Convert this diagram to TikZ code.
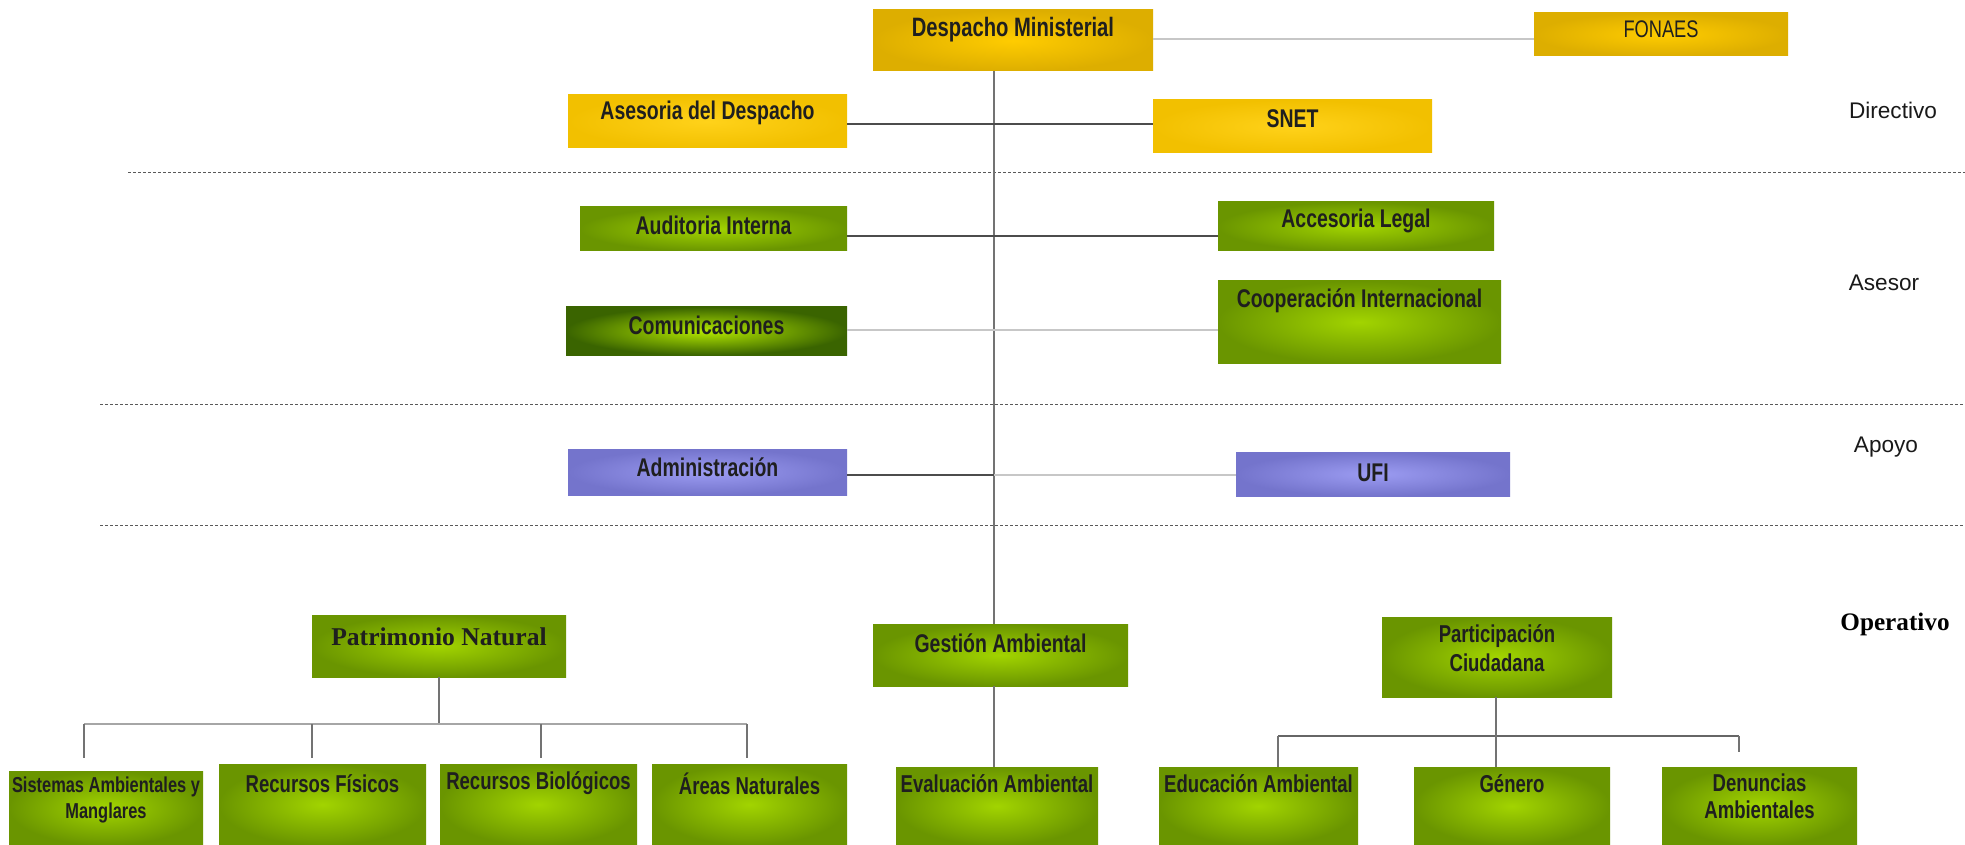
\documentclass[tikz,border=0pt]{standalone}
\usepackage{fontspec}
\setmainfont{Liberation Sans}
\newfontfamily\narrowfont[FakeStretch=0.76]{Liberation Sans}
\newfontfamily\serfont{Liberation Serif}
\usetikzlibrary{fit,calc}
\definecolor{yedge}{HTML}{DDAE00}
\definecolor{ycen}{HTML}{FFCC00}
\definecolor{yedgeb}{HTML}{F2C000}
\definecolor{ycenb}{HTML}{FFD21A}
\definecolor{gedge}{HTML}{6A9500}
\definecolor{gcen}{HTML}{A2D400}
\definecolor{dgedge}{HTML}{3A6400}
\definecolor{dgcen}{HTML}{B4E800}
\definecolor{pedge}{HTML}{7474CC}
\definecolor{pcen}{HTML}{9C9CF2}
\begin{document}
\begin{tikzpicture}[x=0.5pt,y=-0.5pt,
  boxbase/.style={rectangle,draw=none,inner sep=0pt},
  ybox/.style={boxbase,inner color=ycen,outer color=yedge},
  ybbox/.style={boxbase,inner color=ycenb,outer color=yedgeb},
  gbox/.style={boxbase,inner color=gcen,outer color=gedge},
  dgbox/.style={boxbase,inner color=dgcen,outer color=dgedge},
  pbox/.style={boxbase,inner color=pcen,outer color=pedge},
  lbl/.style={font=\narrowfont\bfseries\fontsize{12.8}{14.5}\selectfont,text=black!88,align=center,inner sep=0pt},
  lblsm/.style={font=\narrowfont\bfseries\fontsize{12.2}{13.5}\selectfont,text=black!88,align=center,inner sep=0pt},
  side/.style={font=\fontsize{11.3}{13}\selectfont,text=black!90,inner sep=0pt},
  darkline/.style={draw=black!70,line width=1pt},
  midline/.style={draw=black!55,line width=0.8pt},
  lightline/.style={draw=black!22,line width=1pt},
  sep/.style={draw=black!65,line width=0.5pt,dash pattern=on 1.5pt off 1pt}
]
\useasboundingbox (0,0) rectangle (1965,845);
\fill[white] (0,0) rectangle (1965,845);

% separators
\draw[sep] (128,173) -- (1965,173);
\draw[sep] (100,404) -- (1965,404);
\draw[sep] (100,525) -- (1965,525);

% side labels
\node[side] (ldir) at (1893,110) {Directivo};
\node[side] (lase) at (1884,283) {Asesor};
\node[side] (lapo) at (1886,447) {Apoyo};
\node[font=\serfont\bfseries\fontsize{12.6}{14}\selectfont,inner sep=0pt] (lope) at (1895,624) {Operativo};

% boxes
\node[ybox,fit={(873,10) (1153,71)}] (dm) {};
\node[ybox,fit={(1534,13) (1788,56)}] (fon) {};
\node[ybbox,fit={(568,95) (847,148)}] (ase) {};
\node[ybbox,fit={(1153,100) (1432,153)}] (snet) {};
\node[gbox,fit={(580,207) (847,251)}] (aud) {};
\node[gbox,fit={(1218,202) (1494,251)}] (acc) {};
\node[dgbox,fit={(566,307) (847,355)}] (com) {};
\node[gbox,fit={(1218,281) (1501,363)}] (coop) {};
\node[pbox,fit={(568,449) (847,495)}] (adm) {};
\node[pbox,fit={(1236,452) (1510,496)}] (ufi) {};
\node[gbox,fit={(312,615) (566,677)}] (pat) {};
\node[gbox,fit={(873,624) (1128,686)}] (ges) {};
\node[gbox,fit={(1382,617) (1612,697)}] (par) {};
\node[gbox,fit={(9,771) (203,845)}] (sis) {};
\node[gbox,fit={(219,764) (426,845)}] (rfi) {};
\node[gbox,fit={(440,764) (637,845)}] (rbi) {};
\node[gbox,fit={(652,764) (847,845)}] (are) {};
\node[gbox,fit={(896,767) (1098,845)}] (eva) {};
\node[gbox,fit={(1159,767) (1358,845)}] (edu) {};
\node[gbox,fit={(1414,767) (1610,845)}] (gen) {};
\node[gbox,fit={(1662,767) (1857,845)}] (den) {};

% labels
\node[lbl,font=\narrowfont\bfseries\fontsize{13.3}{15}\selectfont] (tdm) at ($(dm.north)+(0,20)$) {Despacho Ministerial};
\node[lbl,font=\narrowfont\fontsize{12}{14}\selectfont] (tfon) at ($(fon.north)+(0,17)$) {FONAES};
\node[lbl] (tase) at ($(ase.north)+(0,18)$) {Asesoria del Despacho};
\node[lbl] (tsnet) at ($(snet.north)+(0,19)$) {SNET};
\node[lbl] (taud) at ($(aud.north)+(0,19)$) {Auditoria Interna};
\node[lbl] (tacc) at ($(acc.north)+(0,19)$) {Accesoria Legal};
\node[lbl] (tcom) at ($(com.north)+(0,19)$) {Comunicaciones};
\node[lbl] (tcoop) at ($(coop.north)+(0,20)$) {Cooperación Internacional};
\node[lbl] (tadm) at ($(adm.north)+(0,19)$) {Administración};
\node[lbl] (tufi) at ($(ufi.north)+(0,21)$) {UFI};
\node[lbl,font=\serfont\bfseries\fontsize{12.8}{14}\selectfont] (tpat) at ($(pat.north)+(0,22)$) {Patrimonio Natural};
\node[lbl] (tges) at ($(ges.north)+(0,20)$) {Gestión Ambiental};
\node[lbl,font=\narrowfont\bfseries\fontsize{12.2}{14.5}\selectfont,anchor=north] (tpar) at ($(par.north)+(0,8)$) {Participación\\Ciudadana};
\node[lblsm,font=\narrowfont\bfseries\fontsize{10.8}{13}\selectfont,anchor=north] (tsis) at ($(sis.north)+(0,6)$) {Sistemas Ambientales y\\Manglares};
\node[lblsm] (trfi) at ($(rfi.north)+(0,20)$) {Recursos Físicos};
\node[lblsm] (trbi) at ($(rbi.north)+(0,20)$) {Recursos Biológicos};
\node[lblsm] (tare) at ($(are.north)+(0,20)$) {Áreas Naturales};
\node[lblsm] (teva) at ($(eva.north)+(0,17)$) {Evaluación Ambiental};
\node[lblsm] (tedu) at ($(edu.north)+(0,17)$) {Educación Ambiental};
\node[lblsm] (tgen) at ($(gen.north)+(0,17)$) {Género};
\node[lblsm,anchor=north] (tden) at ($(den.north)+(0,7)$) {Denuncias\\Ambientales};

% junction coordinates
\coordinate (jf) at (1200,39);
\coordinate (j1) at (994,124);
\coordinate (j2) at (994,236);
\coordinate (j3) at (994,330);
\coordinate (j4) at (994,475);
\coordinate (hp) at (439,724);
\coordinate (dp1) at (84,758);
\coordinate (dp2) at (312,758);
\coordinate (dp3) at (541,758);
\coordinate (dp4) at (747,758);
\coordinate (hq) at (1496,736);
\coordinate (dq1) at (1278,736);
\coordinate (dq2) at (1739,736);
\coordinate (dq2e) at (1739,752);

% connectors
\draw[lightline] (dm.east |- jf) -- (fon.west |- jf);
\draw[midline] (dm.south -| j1) -- (ges.north -| j1);
\draw[darkline] (ase.east |- j1) -- (snet.west |- j1);
\draw[darkline] (aud.east |- j2) -- (acc.west |- j2);
\draw[lightline] (com.east |- j3) -- (coop.west |- j3);
\draw[darkline] (adm.east |- j4) -- (j4);
\draw[lightline] (j4) -- (ufi.west |- j4);
\draw[midline] (ges.south -| j1) -- (eva.north -| j1);
% Patrimonio tree
\draw[midline] (pat.south) -- (hp);
\draw[lightline,draw=black!35] (dp1 |- hp) -- (dp4 |- hp);
\draw[midline] (dp1 |- hp) -- (dp1);
\draw[midline] (dp2 |- hp) -- (dp2);
\draw[midline] (dp3 |- hp) -- (dp3);
\draw[midline] (dp4 |- hp) -- (dp4);
% Participacion tree
\draw[darkline,line width=1.4pt,draw=black!60] (dq1) -- (dq2);
\draw[midline] (par.south -| hq) -- (gen.north -| hq);
\draw[midline] (dq1) -- (edu.north -| dq1);
\draw[midline] (dq2) -- (dq2e);
\end{tikzpicture}
\end{document}
